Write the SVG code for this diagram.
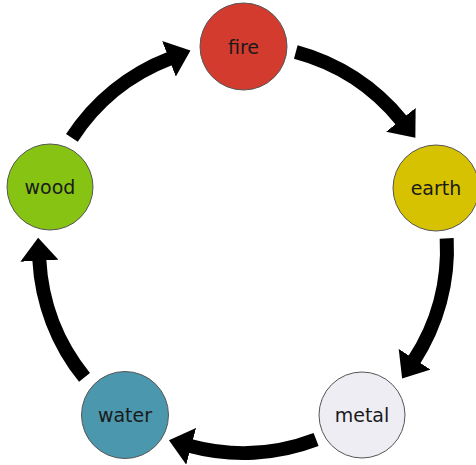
<svg xmlns="http://www.w3.org/2000/svg" width="476" height="465" viewBox="0 0 476 465">
<style>
.node circle{stroke:#555;stroke-width:1}
.node text{font-family:"DejaVu Sans",sans-serif;font-size:19px;fill:#1a1a1a;text-anchor:middle;dominant-baseline:central}
.arrow{fill:none;stroke:#000;stroke-width:14;marker-end:url(#head)}
</style>
<defs>
<marker id="head" markerUnits="userSpaceOnUse" markerWidth="24" markerHeight="38" viewBox="0 0 24 38" refX="1" refY="19" orient="auto">
<path d="M0,0 L23,19 L0,38 Z" fill="#000"/>
</marker>
</defs>
<rect width="476" height="465" fill="#fff"/>
<g id="connectors">
<path class="arrow" d="M295.8,52 A204,204 0 0 1 401.5,120.6"/>
<path class="arrow" d="M446.7,238.3 A204,204 0 0 1 414.1,360.1"/>
<path class="arrow" d="M316.1,439.5 A204,204 0 0 1 190.2,446"/>
<path class="arrow" d="M84.5,377.4 A204,204 0 0 1 39.3,259.7"/>
<path class="arrow" d="M71.9,137.9 A204,204 0 0 1 169.9,58.5"/>
</g>
<g id="fire" class="node"><circle cx="243.5" cy="46.5" r="43.5" fill="#d33b2f"/><text x="243.5" y="47">fire</text></g>
<g id="earth" class="node"><circle cx="436" cy="188" r="43" fill="#d6c200"/><text x="436" y="188">earth</text></g>
<g id="metal" class="node"><circle cx="362" cy="415" r="43" fill="#ededf3"/><text x="362" y="415">metal</text></g>
<g id="water" class="node"><circle cx="125" cy="415" r="43.5" fill="#4b97ad"/><text x="125" y="415">water</text></g>
<g id="wood" class="node"><circle cx="50" cy="187" r="43" fill="#86c313"/><text x="50" y="187">wood</text></g>
</svg>
